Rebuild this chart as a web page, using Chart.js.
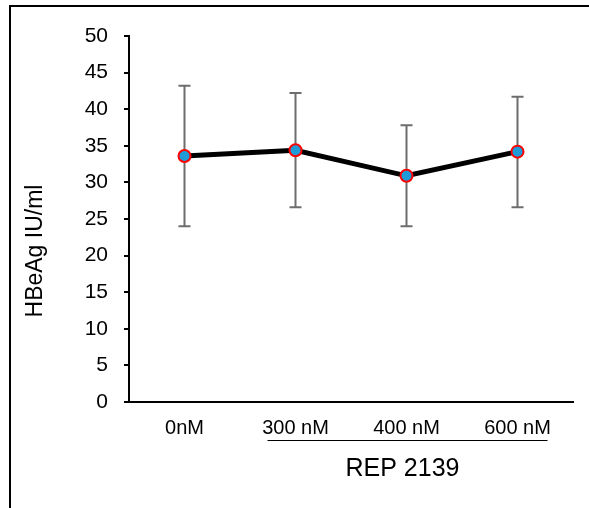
<!DOCTYPE html>
<html>
<head>
<meta charset="utf-8">
<script src="https://cdn.jsdelivr.net/npm/chart.js@4.4.1/dist/chart.umd.min.js"></script>
<style>
  html, body { margin: 0; padding: 0; background: #fff; overflow: hidden; }
  #chart { display: block; }
</style>
</head>
<body>
<canvas id="chart" width="589" height="508"></canvas>
<script>
// ---------------- data ----------------
const doses = ['0nM', '300 nM', '400 nM', '600 nM']
const hbeag = [33.6, 34.4, 30.9, 34.2]   // mean HBeAg IU/ml
const errLow = [9.6, 7.8, 6.9, 7.6]      // distance down to lower whisker
const errHigh = [9.6, 7.8, 6.9, 7.5]     // distance up to upper whisker
const yTicks = [0, 5, 10, 15, 20, 25, 30, 35, 40, 45, 50]
const yTitle = 'HBeAg IU/ml'
const groupLabel = 'REP 2139'

const FONT = 'Arial, "Liberation Sans", sans-serif'

// white page with the black frame along the left and top
const frame = {
  id: 'frame',
  beforeDraw(chart) {
    const ctx = chart.ctx
    ctx.save()
    ctx.fillStyle = '#fff'
    ctx.fillRect(0, 0, chart.width, chart.height)
    ctx.strokeStyle = '#000'
    ctx.lineWidth = 2
    ctx.beginPath()
    ctx.moveTo(10, chart.height)
    ctx.lineTo(10, 6)
    ctx.lineTo(chart.width, 6)
    ctx.stroke()
    ctx.restore()
  },
}

// whiskers drawn under the line and markers
const errorBars = {
  id: 'errorBars',
  beforeDatasetsDraw(chart) {
    const ctx = chart.ctx
    const x = chart.scales.x
    const y = chart.scales.y
    ctx.save()
    ctx.strokeStyle = '#6d6d6d'
    ctx.lineWidth = 2
    hbeag.forEach((v, i) => {
      const px = x.getPixelForValue(i)
      const top = y.getPixelForValue(v + errHigh[i])
      const bot = y.getPixelForValue(v - errLow[i])
      ctx.beginPath()
      ctx.moveTo(px, top)
      ctx.lineTo(px, bot)
      ctx.moveTo(px - 6, top)
      ctx.lineTo(px + 6, top)
      ctx.moveTo(px - 6, bot)
      ctx.lineTo(px + 6, bot)
      ctx.stroke()
    })
    ctx.restore()
  },
}

// axis title, underline over the treated doses and the group name below it
const annotations = {
  id: 'annotations',
  afterDraw(chart) {
    const ctx = chart.ctx
    const x = chart.scales.x
    const x0 = x.getPixelForValue(1) - 28
    const x1 = x.getPixelForValue(3) + 30
    ctx.save()
    ctx.fillStyle = '#000'
    ctx.strokeStyle = '#000'

    ctx.lineWidth = 1
    ctx.beginPath()
    ctx.moveTo(x0, 440.5)
    ctx.lineTo(x1, 440.5)
    ctx.stroke()

    ctx.font = '25px ' + FONT
    ctx.textAlign = 'center'
    ctx.textBaseline = 'middle'
    ctx.fillText(groupLabel, (x0 + x1) / 2 - 5, 469)

    ctx.translate(36, 251)
    ctx.rotate(-Math.PI / 2)
    ctx.font = '23px ' + FONT
    ctx.fillText(yTitle, 0, 0)
    ctx.restore()
  },
}

const chart = new Chart(document.getElementById('chart'), {
  type: 'line',
  data: {
    labels: doses,
    datasets: [
      {
        data: hbeag,
        borderColor: '#000',
        borderWidth: 5,
        pointRadius: 6,
        pointBorderWidth: 2,
        pointBackgroundColor: '#1f9bd7',
        pointBorderColor: '#ff0000',
        tension: 0,
      },
    ],
  },
  options: {
    responsive: false,
    animation: false,
    layout: { padding: { left: 0, top: 36, right: 16, bottom: 0 } },
    plugins: {
      legend: { display: false },
      tooltip: { enabled: false },
    },
    scales: {
      x: {
        offset: true,
        grid: { display: false },
        border: { display: true, color: '#000', width: 2 },
        ticks: { color: '#000', padding: 6, font: { family: FONT, size: 20 } },
        afterFit: (scale) => { scale.height = 106 },
      },
      y: {
        min: 0,
        max: 50,
        afterBuildTicks: (scale) => { scale.ticks = yTicks.map((v) => ({ value: v })) },
        grid: { drawOnChartArea: false, drawTicks: true, tickLength: 5, color: '#000', lineWidth: 2 },
        border: { display: true, color: '#000', width: 2 },
        ticks: { color: '#000', padding: 16, font: { family: FONT, size: 21 } },
        afterFit: (scale) => { scale.width = 129 },
      },
    },
  },
  plugins: [frame, errorBars, annotations],
})
</script>
</body>
</html>
